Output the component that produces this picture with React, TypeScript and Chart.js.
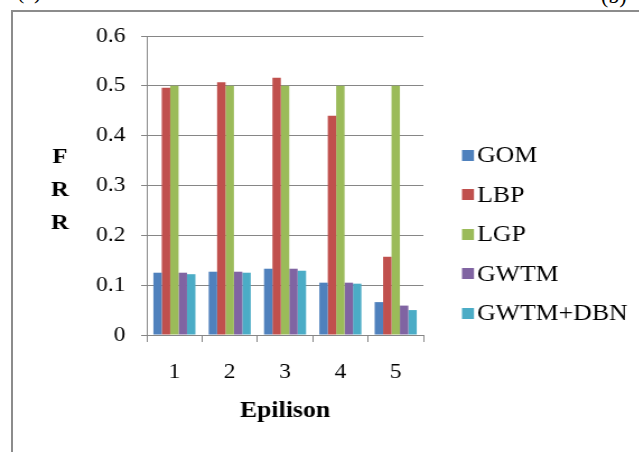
import React, { useEffect, useRef } from "react";
import { Chart, registerables } from "chart.js";

Chart.register(...registerables);

const categories = ["1", "2", "3", "4", "5"];
const seriesNames = ["GOM", "LBP", "LGP", "GWTM", "GWTM+DBN"];
const gom = [0.125, 0.127, 0.133, 0.105, 0.066];
const lbp = [0.496, 0.507, 0.516, 0.44, 0.157];
const lgp = [0.5, 0.5, 0.5, 0.5, 0.5];
const gwtm = [0.125, 0.127, 0.133, 0.105, 0.059];
const gwtmDbn = [0.122, 0.125, 0.129, 0.103, 0.05];
const seriesColors = ["#4F81BD", "#C0504D", "#9BBB59", "#8064A2", "#4BACC6"];
const yMin = 0;
const yMax = 0.6;
const yStep = 0.1;
const yAxisLetters = ["F", "R", "R"];
const xTitle = "Epilison";
const panelLeft = "(a)";
const panelRight = "(b)";

// the reference picture is slightly stretched horizontally
const STRETCH = 1.12;
const CANVAS_W = 571;
const CANVAS_H = 452;

const FONT = "'Liberation Serif'";
const GRID = "#868686";

const overlayPlugin = {
  id: "overlay",
  afterDraw(chart: any) {
    const ctx = chart.ctx;
    ctx.save();
    ctx.font = `23px ${FONT}`;
    ctx.textBaseline = "middle";
    ctx.textAlign = "left";
    chart.data.datasets.forEach((ds: any, i: number) => {
      const y = 155 + i * 39.5;
      ctx.fillStyle = ds.backgroundColor;
      ctx.fillRect(412.5, Math.round(y - 5.5), 10.7, 11);
      ctx.fillStyle = "#000";
      ctx.fillText(ds.label, 426, y + 1);
    });
    ctx.font = `bold 22px ${FONT}`;
    ctx.textAlign = "center";
    yAxisLetters.forEach((l, i) => ctx.fillText(l, 53.5, 157 + i * 33));
    ctx.restore();
  },
};

export default function App() {
  const ref = useRef<HTMLCanvasElement | null>(null);

  useEffect(() => {
    if (!ref.current) return;
    const values = [gom, lbp, lgp, gwtm, gwtmDbn];
    const chart = new Chart(ref.current, {
      type: "bar",
      data: {
        labels: categories,
        datasets: seriesNames.map((name, i) => ({
          label: name,
          data: values[i],
          backgroundColor: seriesColors[i],
          borderWidth: 0,
          barPercentage: 1,
          categoryPercentage: 0.76,
        })),
      },
      options: {
        animation: false,
        responsive: false,
        devicePixelRatio: 1,
        layout: { padding: { top: 36, right: 193, left: 0, bottom: 0 } },
        plugins: {
          legend: { display: false },
          tooltip: { enabled: false },
        },
        scales: {
          x: {
            grid: {
              offset: true,
              drawOnChartArea: false,
              drawTicks: true,
              tickLength: 7,
              color: GRID,
            },
            border: { color: GRID, width: 1 },
            ticks: { font: { family: FONT, size: 21 }, color: "#000", padding: 18 },
            title: {
              display: true,
              text: xTitle,
              font: { family: FONT, size: 23, weight: "bold" },
              color: "#000",
              padding: { top: 0, bottom: 27 },
            },
            afterFit: (s: any) => {
              s.height = 117;
            },
          },
          y: {
            min: yMin,
            max: yMax,
            ticks: {
              stepSize: yStep,
              padding: 14,
              font: { family: FONT, size: 21 },
              color: "#000",
              callback: (v: any) => (Number(v) === 0 ? "0" : Number(v).toFixed(1)),
            },
            grid: { color: GRID, tickLength: 5, drawTicks: true },
            border: { color: GRID, width: 1 },
            afterFit: (s: any) => {
              s.width = 131;
            },
          },
        },
      },
      plugins: [overlayPlugin],
    });
    return () => chart.destroy();
  }, []);

  return (
    <div style={{ position: "absolute", left: 0, top: 0, width: 639, height: 452, overflow: "hidden", background: "#fff" }}>
      <div
        style={{
          position: "absolute",
          left: 11,
          top: 10,
          width: 700,
          height: 600,
          border: "2px solid #8c8c8c",
        }}
      />
      <div style={{ position: "absolute", left: 17, top: -19, font: `22px ${FONT}`, lineHeight: "22px", color: "#000" }}>
        {panelLeft}
      </div>
      <div style={{ position: "absolute", left: 601, top: -15, font: `22px ${FONT}`, lineHeight: "22px", color: "#000" }}>
        {panelRight}
      </div>
      <div
        style={{
          position: "absolute",
          left: 0,
          top: 0,
          width: CANVAS_W,
          height: CANVAS_H,
          transform: `scaleX(${STRETCH})`,
          transformOrigin: "0 0",
        }}
      >
        <canvas ref={ref} width={CANVAS_W} height={CANVAS_H} style={{ display: "block", width: CANVAS_W, height: CANVAS_H }} />
      </div>
    </div>
  );
}
